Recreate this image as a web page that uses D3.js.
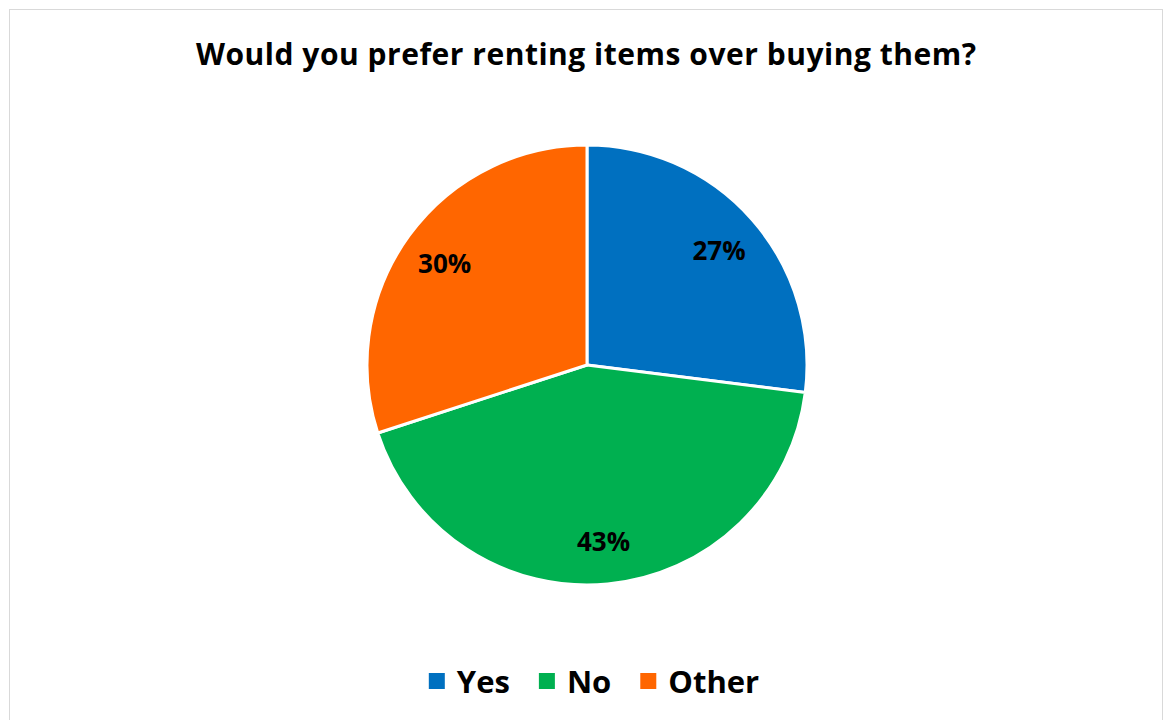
<!DOCTYPE html>
<html>
<head>
<meta charset="utf-8">
<script src="https://cdn.jsdelivr.net/npm/d3@7"></script>
<style>
  html, body { margin: 0; padding: 0; background: #ffffff; }
  svg { display: block; }
  text { font-family: "Open Sans", Lato, "Liberation Sans", sans-serif; font-weight: bold; fill: #000; }
</style>
</head>
<body>
<svg id="chart" width="1165" height="720"></svg>
<script>
// Survey responses
const categories = ["Yes", "No", "Other"];
const shares = [27, 43, 30];
const colors = ["#0070c0", "#00b050", "#ff6600"];
const titleText = "Would you prefer renting items over buying them?";

const svg = d3.select("#chart");

// chart frame
svg.append("rect")
  .attr("x", 9.5).attr("y", 9.5)
  .attr("width", 1153).attr("height", 720)
  .attr("fill", "#fff").attr("stroke", "#d9d9d9").attr("stroke-width", 1);

const title = svg.append("text")
  .attr("x", 586).attr("y", 65)
  .attr("text-anchor", "middle")
  .attr("font-size", 30)
  .text(titleText);
// widen letter spacing slightly to fill the heading width
const tw = title.node().getComputedTextLength();
if (tw < 780) title.attr("textLength", 780).attr("lengthAdjust", "spacing");

const cx = 587, cy = 365, r = 220;
const color = d3.scaleOrdinal().domain(categories).range(colors);

const pie = d3.pie().sort(null).value(d => d.value);
const data = categories.map((c, i) => ({ name: c, value: shares[i] }));
const arcs = pie(data);
const arc = d3.arc().innerRadius(0).outerRadius(r);
const labelArc = d3.arc().innerRadius(r * 0.8).outerRadius(r * 0.8);

const g = svg.append("g").attr("transform", `translate(${cx},${cy})`);
g.selectAll("path.slice")
  .data(arcs)
  .join("path")
  .attr("class", "slice")
  .attr("d", arc)
  .attr("fill", d => color(d.data.name))
  .attr("stroke", "#fff")
  .attr("stroke-width", 3)
  .attr("stroke-linejoin", "round");

g.selectAll("text.lbl")
  .data(arcs)
  .join("text")
  .attr("class", "lbl")
  .attr("transform", d => { const [x, y] = labelArc.centroid(d); return `translate(${x},${y + 2})`; })
  .attr("text-anchor", "middle")
  .attr("dy", "0.35em")
  .attr("font-size", 26)
  .text(d => d.data.value + "%");

// legend
const legend = svg.append("g");
const items = legend.selectAll("g")
  .data(categories)
  .join("g");
items.append("rect")
  .attr("width", 16).attr("height", 16)
  .attr("fill", d => color(d));
items.append("text")
  .attr("x", 28).attr("y", 20)
  .attr("font-size", 31)
  .text(d => d);

let xPos = 0;
items.each(function () {
  const w = this.getBBox().width;
  d3.select(this).attr("transform", `translate(${xPos},0)`);
  xPos += w + 29;
});
const total = xPos - 29;
legend.attr("transform", `translate(${594 - total / 2},${673})`);
</script>
</body>
</html>
